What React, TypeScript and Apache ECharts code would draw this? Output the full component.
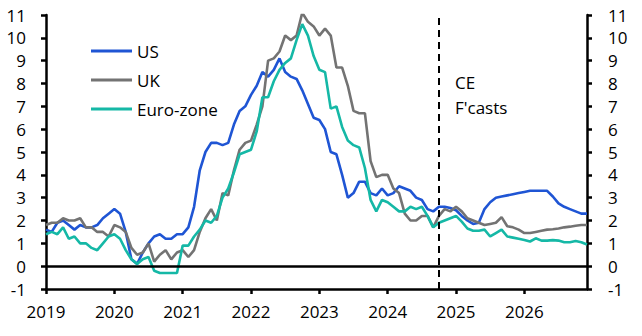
import React, { useEffect, useRef } from "react";
import * as echarts from "echarts";

const years = [2019, 2020, 2021, 2022, 2023, 2024, 2025, 2026];
const categories: string[] = [];
years.forEach((y) => {
  for (let m = 1; m <= 12; m++) categories.push(`${y}-${m < 10 ? "0" + m : m}`);
});

const usValues = [
  1.6, 1.5, 1.9, 2.0, 1.8, 1.6, 1.8, 1.7, 1.7, 1.8, 2.1, 2.3,
  2.5, 2.3, 1.5, 0.3, 0.1, 0.6, 1.0, 1.3, 1.4, 1.2, 1.2, 1.4,
  1.4, 1.7, 2.6, 4.2, 5.0, 5.4, 5.4, 5.3, 5.4, 6.2, 6.8, 7.0,
  7.5, 7.9, 8.5, 8.3, 8.6, 9.1, 8.5, 8.3, 8.2, 7.7, 7.1, 6.5,
  6.4, 6.0, 5.0, 4.9, 4.0, 3.0, 3.2, 3.7, 3.7, 3.2, 3.1, 3.4,
  3.1, 3.2, 3.5, 3.4, 3.3, 3.0, 2.9, 2.5, 2.4, 2.6, 2.6, 2.55,
  2.45, 2.2, 2.0, 1.85, 1.9, 2.5, 2.8, 3.0, 3.05, 3.1, 3.15, 3.2,
  3.25, 3.3, 3.3, 3.3, 3.3, 3.05, 2.75, 2.6, 2.5, 2.4, 2.3, 2.3,
];

const ukValues = [
  1.8, 1.9, 1.9, 2.1, 2.0, 2.0, 2.1, 1.7, 1.7, 1.5, 1.5, 1.3,
  1.8, 1.7, 1.5, 0.8, 0.5, 0.6, 1.0, 0.2, 0.5, 0.7, 0.3, 0.6,
  0.7, 0.4, 0.7, 1.5, 2.1, 2.5, 2.0, 3.2, 3.1, 4.2, 5.1, 5.4,
  5.5, 6.2, 7.0, 9.0, 9.1, 9.4, 10.1, 9.9, 10.1, 11.1, 10.7, 10.5,
  10.1, 10.4, 10.1, 8.7, 8.7, 7.9, 6.8, 6.7, 6.7, 4.6, 3.9, 4.0,
  4.0, 3.4, 3.2, 2.3, 2.0, 2.0, 2.2, 2.2, 1.7, 2.2, 2.5, 2.4,
  2.6, 2.4, 2.1, 2.0, 1.9, 1.8, 1.85, 1.9, 2.15, 1.75, 1.7, 1.6,
  1.45, 1.45, 1.5, 1.55, 1.6, 1.62, 1.65, 1.7, 1.73, 1.77, 1.8, 1.8,
];

const euroValues = [
  1.4, 1.5, 1.4, 1.7, 1.2, 1.3, 1.0, 1.0, 0.8, 0.7, 1.0, 1.3,
  1.4, 1.2, 0.7, 0.3, 0.1, 0.3, 0.4, -0.2, -0.3, -0.3, -0.3, -0.3,
  0.9, 0.9, 1.3, 1.6, 2.0, 1.9, 2.2, 3.0, 3.4, 4.1, 4.9, 5.0,
  5.1, 5.9, 7.4, 7.4, 8.1, 8.6, 8.9, 9.1, 9.9, 10.6, 10.1, 9.2,
  8.6, 8.5, 6.9, 7.0, 6.1, 5.5, 5.3, 5.2, 4.3, 2.9, 2.4, 2.9,
  2.8, 2.6, 2.4, 2.4, 2.6, 2.5, 2.6, 2.2, 1.7, 1.9, 2.0, 2.1,
  2.2, 1.95, 1.65, 1.55, 1.55, 1.6, 1.3, 1.45, 1.6, 1.3, 1.25, 1.2,
  1.15, 1.08, 1.22, 1.12, 1.12, 1.14, 1.12, 1.05, 1.05, 1.1, 1.05, 0.95,
];

const seriesNames = ["US", "UK", "Euro-zone"];
const seriesColors = ["#1f55d4", "#737373", "#15b8a6"];
const forecastStart = "2024-10";
const forecastLabel = ["CE", "F'casts"];

const FONT = "'Open Sans', sans-serif";

export default function App() {
  const ref = useRef<HTMLDivElement>(null);
  useEffect(() => {
    document.body.style.margin = "0";
    if (!ref.current) return;
    const chart = echarts.init(ref.current, undefined, { renderer: "svg" });
    const axisLabelStyle = { color: "#000", fontSize: 17, fontFamily: FONT };
    const yAxisCommon = {
      type: "value" as const,
      min: -1,
      max: 11,
      interval: 1,
      splitLine: { show: false },
      axisLine: { show: true, lineStyle: { color: "#000", width: 2.5 } },
      axisTick: { show: true, length: 5, lineStyle: { color: "#000", width: 2.5 } },
    };
    const valueSets = [usValues, ukValues, euroValues];
    chart.setOption({
      animation: false,
      textStyle: { fontFamily: FONT },
      grid: { left: 46, right: 55, top: 15, bottom: 47 },
      legend: {
        orient: "vertical",
        left: 86,
        top: 36,
        icon: "rect",
        itemWidth: 41,
        itemHeight: 3,
        itemGap: 9,
        data: seriesNames,
        textStyle: { color: "#000", fontSize: 17, fontFamily: FONT, lineHeight: 20 },
      },
      xAxis: {
        type: "category",
        data: categories,
        boundaryGap: false,
        axisLine: { onZero: false, lineStyle: { color: "#000", width: 2.5 } },
        axisTick: {
          show: true,
          length: 5,
          interval: (i: number) => i % 12 === 0,
          lineStyle: { color: "#000", width: 2.5 },
        },
        axisLabel: {
          ...axisLabelStyle,
          margin: 14,
          interval: (i: number) => i % 12 === 0,
          formatter: (v: string) => v.slice(0, 4),
        },
      },
      yAxis: [
        { ...yAxisCommon, position: "left", axisLabel: { ...axisLabelStyle, margin: 20 } },
        { ...yAxisCommon, position: "right", axisLabel: { ...axisLabelStyle, margin: 21 } },
      ],
      series: seriesNames.map((name, i) => ({
        name,
        type: "line",
        data: valueSets[i],
        symbol: "none",
        color: seriesColors[i],
        lineStyle: { width: 2.6, color: seriesColors[i] },
        ...(i === 0
          ? {
              markLine: {
                silent: true,
                symbol: "none",
                label: { show: false },
                data: [
                  { yAxis: 0, lineStyle: { color: "#000", width: 2.5, type: "solid" } },
                  { xAxis: forecastStart, lineStyle: { color: "#000", width: 2, type: [7, 5] } },
                ],
              },
            }
          : {}),
      })),
      graphic: forecastLabel.map((t, i) => ({
        type: "text",
        left: 455,
        top: 74 + i * 25,
        style: { text: t, fontSize: 17, fontFamily: FONT, fill: "#000" },
      })),
    });
    return () => chart.dispose();
  }, []);
  return <div ref={ref} style={{ width: 642, height: 336 }} />;
}
